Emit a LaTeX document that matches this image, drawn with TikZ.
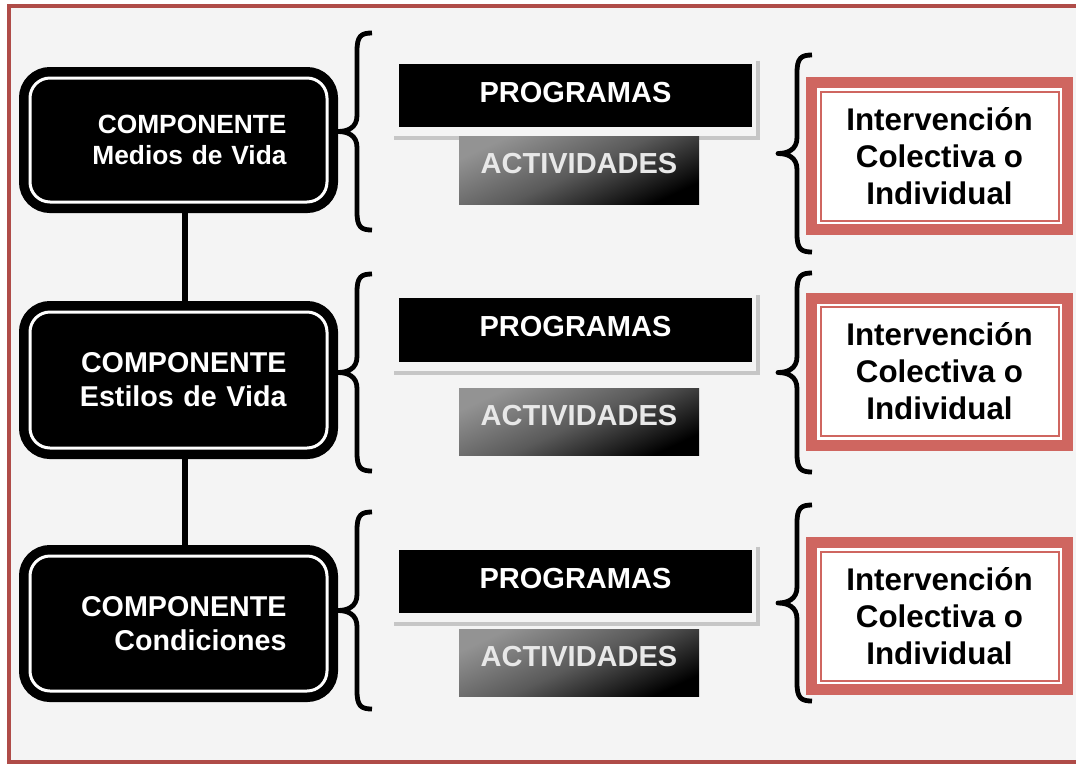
\documentclass[tikz,border=0pt]{standalone}
\usepackage{fontspec}
\setmainfont{Liberation Sans}
\usepackage{xcolor}
\usepackage{tikz}
\usetikzlibrary{positioning, calc, backgrounds}

\definecolor{framered}{HTML}{AF4C48}
\definecolor{paper}{HTML}{F4F4F4}
\definecolor{boxred}{HTML}{CF6660}
\definecolor{shadowgray}{HTML}{C6C6C6}
\definecolor{actgray}{HTML}{939393}
\definecolor{actmid}{HTML}{5A5A5A}
\definecolor{acttext}{HTML}{E8E8E8}

\tikzset{
  compbox/.style={rectangle, rounded corners=15pt, fill=black, draw=white, line width=2.25pt,
    preaction={draw=black, line width=16.5pt}, text=white, align=right, text width=162pt,
    font=\bfseries\fontsize{21.5}{25.5}\selectfont, minimum width=222.75pt, inner sep=0pt},
  progbox/.style={rectangle, fill=black, text=white, font=\bfseries\fontsize{21.75}{26}\selectfont,
    minimum width=264.75pt, minimum height=47.5pt, text height=15.6pt, text depth=5.25pt, inner sep=0pt},
  actbox/.style={rectangle, top color=actgray, bottom color=black, middle color=actmid,
    shading angle=25, text=acttext,
    font=\bfseries\fontsize{21.75}{26}\selectfont, minimum width=180pt, minimum height=50.5pt,
    text height=15.6pt, text depth=10.5pt, inner sep=0pt},
  intvbox/.style={rectangle, preaction={draw=boxred, line width=21.75pt},
    preaction={draw=white, line width=5.25pt}, fill=white, draw=boxred, line width=1.5pt,
    align=center, font=\bfseries\fontsize{23.5}{27.75}\selectfont,
    minimum width=178.5pt, minimum height=96.75pt, inner sep=0pt},
  linkline/.style={draw=black, line width=4.5pt},
  shadowline/.style={draw=shadowgray, line width=3pt},
  bracestyle/.style={draw=black, line width=3.6pt, line join=round}
}

% #1 = x of the ends, #2 = top, #3 = bottom
\newcommand{\curlybrace}[3]{%
  \pgfmathsetmacro{\bmid}{(#2+#3)/2}
  \draw[bracestyle] (#1,#2) .. controls (#1-11,#2) and (#1-15,#2+3) .. (#1-15,#2+18)
    -- (#1-15,\bmid-16) .. controls (#1-15,\bmid-4) and (#1-24,\bmid) .. (#1-34,\bmid)
    .. controls (#1-24,\bmid) and (#1-15,\bmid+4) .. (#1-15,\bmid+16)
    -- (#1-15,#3-18) .. controls (#1-15,#3-3) and (#1-11,#3) .. (#1,#3);
}

\begin{document}
\begin{tikzpicture}[x=0.75pt, y=-0.75pt]
  \useasboundingbox (0,0) rectangle (1076,765);

  % Components
  \node[compbox, minimum height=93pt, font=\bfseries\fontsize{19.75}{23.25}\selectfont] (comp1) at (178.5,140) {COMPONENTE\\Medios de Vida};
  \node[compbox, minimum height=102pt] (comp2) at (178.5,380) {COMPONENTE\\Estilos de Vida};
  \node[compbox, minimum height=101.25pt] (comp3) at (178.5,623.5) {COMPONENTE\\Condiciones};

  % Programas
  \node[progbox] (prog1) at (575.5,95.5) {PROGRAMAS};
  \node[progbox] (prog2) at (575.5,330) {PROGRAMAS};
  \node[progbox] (prog3) at (575.5,581.5) {PROGRAMAS};

  % Actividades
  \node[actbox] (act1) at (579,170.5) {ACTIVIDADES};
  \node[actbox] (act2) at (579,422) {ACTIVIDADES};
  \node[actbox] (act3) at (579,663) {ACTIVIDADES};

  % Intervention boxes
  \node[intvbox] (intv1) at (939.5,156) {Intervención\\Colectiva o\\Individual};
  \node[intvbox] (intv2) at (939.5,371.5) {Intervención\\Colectiva o\\Individual};
  \node[intvbox] (intv3) at (939.5,616) {Intervención\\Colectiva o\\Individual};

  % Braces
  \curlybrace{372}{33}{230}
  \curlybrace{372}{274}{471}
  \curlybrace{372}{512}{709}
  \curlybrace{812}{55}{252}
  \curlybrace{812}{273}{472}
  \curlybrace{812}{505}{701}

  \begin{scope}[on background layer]
    \fill[white] (0,0) rectangle (1076,765);
    \draw[line width=3pt, framered, fill=paper] (9,6) rectangle (1090,762);
    \draw[linkline] ([xshift=4.9pt]comp1.south) -- ([xshift=4.9pt]comp2.north);
    \draw[linkline] ([xshift=4.9pt]comp2.south) -- ([xshift=4.9pt]comp3.north);
    \draw[shadowline] ($(prog1.north east)+(6,-3)$) |- ($(prog1.south west)+(-5,11)$);
    \draw[shadowline] ($(prog2.north east)+(6,-3)$) |- ($(prog2.south west)+(-5,11)$);
    \draw[shadowline] ($(prog3.north east)+(6,-3)$) |- ($(prog3.south west)+(-5,11)$);
  \end{scope}
\end{tikzpicture}
\end{document}
